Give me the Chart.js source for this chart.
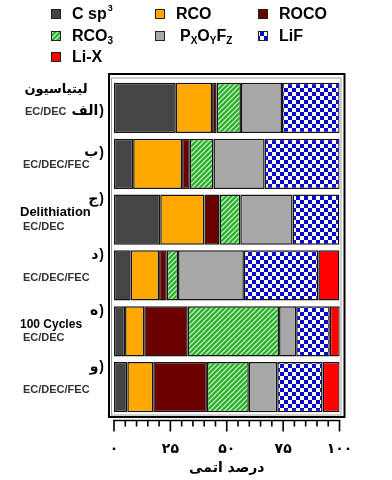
<!DOCTYPE html>
<html>
<head>
<meta charset="utf-8">
<script src="https://cdn.jsdelivr.net/npm/chart.js@4"></script>
<style>
  html, body { margin: 0; padding: 0; background: #ffffff; }
  canvas { display: block; }
</style>
</head>
<body>
<canvas id="c" width="392" height="480"></canvas>
<script>
// ---- data ----
const letters = ["الف)", "ب)", "ج)", "د)", "ه)", "و)"];
const stages = ["لیتیاسیون", "", "Delithiation", "", "100 Cycles", ""];
const electrolytes = ["EC/DEC", "EC/DEC/FEC", "EC/DEC", "EC/DEC/FEC", "EC/DEC", "EC/DEC/FEC"];
const seriesNames = ["C sp^3", "RCO", "ROCO", "RCO_3", "P_XO_YF_Z", "LiF", "Li-X"];
const cSp3   = [27.4, 8.5, 20.5, 7.4, 4.9, 5.9];
const rco    = [16.1, 21.7, 19.6, 12.6, 8.5, 11.5];
const roco   = [2.0, 3.4, 6.7, 3.4, 19.3, 23.8];
const rco3   = [10.8, 10.5, 9.2, 5.0, 40.5, 18.6];
const pxoyfz = [18.2, 22.7, 23.2, 29.2, 7.6, 12.6];
const lif    = [25.6, 33.3, 20.8, 33.0, 14.9, 20.1];
const liX    = [null, null, null, 9.4, 4.5, 7.6];
const tickLabels = ["۰", "۲۵", "۵۰", "۷۵", "۱۰۰"];
const axisTitle = "درصد اتمی";

// ---- patterns ----
function hatchPattern() {
  const t = document.createElement('canvas');
  t.width = 5; t.height = 5;
  const g = t.getContext('2d');
  g.fillStyle = '#2aae2a';
  g.fillRect(0, 0, 5, 5);
  g.strokeStyle = '#bdf0bd';
  g.lineWidth = 1.3;
  g.beginPath();
  g.moveTo(-1, 6); g.lineTo(6, -1);
  g.moveTo(-1, 1); g.lineTo(1, -1);
  g.moveTo(4, 6); g.lineTo(6, 4);
  g.stroke();
  return g.createPattern(t, 'repeat');
}
function checkerPattern() {
  const t = document.createElement('canvas');
  t.width = 8; t.height = 8;
  const g = t.getContext('2d');
  g.fillStyle = '#0a0acc';
  g.fillRect(0, 0, 8, 8);
  g.fillStyle = '#ffffff';
  g.fillRect(0, 0, 4, 4);
  g.fillRect(4, 4, 4, 4);
  return g.createPattern(t, 'repeat');
}

const fills = ['#454545', '#ffa800', '#6b0000', hatchPattern(), '#a8a8a8', checkerPattern(), '#ff0000'];
const seriesData = [cSp3, rco, roco, rco3, pxoyfz, lif, liX];

const datasets = seriesNames.map((n, i) => ({
  label: n,
  data: seriesData[i],
  backgroundColor: fills[i],
  borderColor: '#151515',
  borderWidth: 1.5,
  borderSkipped: false,
  categoryPercentage: 0.9,
  barPercentage: 1.0
}));

function drawRich(ctx, text, x, y, size) {
  // ^ = superscript next char, _ = subscript next char
  let cx = x;
  for (let i = 0; i < text.length; i++) {
    let ch = text[i];
    let mode = '';
    if (ch === '^' || ch === '_') { mode = ch; i++; ch = text[i]; }
    if (mode === '^') {
      ctx.font = 'bold ' + Math.round(size * 0.55) + 'px "Liberation Sans", Arial, sans-serif';
      ctx.fillText(ch, cx + 1, y - size * 0.42);
      cx += ctx.measureText(ch).width + 1;
    } else if (mode === '_') {
      ctx.font = 'bold ' + Math.round(size * 0.62) + 'px "Liberation Sans", Arial, sans-serif';
      ctx.fillText(ch, cx, y + size * 0.28);
      cx += ctx.measureText(ch).width;
    } else {
      ctx.font = 'bold ' + size + 'px "Liberation Sans", Arial, sans-serif';
      ctx.fillText(ch, cx, y);
      cx += ctx.measureText(ch).width;
    }
  }
}

// draw "letter)" with the closing bracket visually at the right
function drawLetter(ctx, text, right, y) {
  ctx.font = 'bold 14px "DejaVu Sans", sans-serif';
  ctx.textAlign = 'right';
  let body = text, tail = '';
  if (text.endsWith(')')) { body = text.slice(0, -1); tail = ')'; }
  let x = right;
  if (tail) {
    ctx.font = 'bold 14px "Liberation Sans", Arial, sans-serif';
    ctx.fillText(tail, x, y);
    x -= ctx.measureText(tail).width + 1;
    ctx.font = 'bold 14px "DejaVu Sans", sans-serif';
  }
  ctx.fillText(body, x, y);
}

const decor = {
  id: 'decor',
  afterDraw(chart) {
    const ctx = chart.ctx;
    const xs = chart.scales.x, ys = chart.scales.y;
    const a = chart.chartArea;
    ctx.save();
    ctx.direction = 'ltr';
    // frames
    ctx.strokeStyle = '#a0a0a0';
    ctx.lineWidth = 1;
    ctx.strokeRect(a.left - 2.5, a.top - 2, (a.right - a.left) + 4, (a.bottom - a.top) + 2);
    ctx.strokeStyle = '#000000';
    ctx.lineWidth = 2;
    ctx.strokeRect(a.left - 5, a.top - 6, (a.right - a.left) + 10, (a.bottom - a.top) + 8);

    // axis line and ticks
    const axY = a.bottom + 5.5;
    ctx.lineWidth = 1.6;
    ctx.beginPath();
    ctx.moveTo(xs.getPixelForValue(0) - 1, axY);
    ctx.lineTo(xs.getPixelForValue(100) + 1, axY);
    for (let v = 0; v <= 100; v += 5) {
      const px = xs.getPixelForValue(v);
      ctx.moveTo(px, axY);
      ctx.lineTo(px, axY + (v % 25 === 0 ? 11 : 6));
    }
    ctx.stroke();

    // tick labels
    ctx.fillStyle = '#000';
    ctx.textAlign = 'center';
    ctx.textBaseline = 'middle';
    ctx.font = 'bold 14px "DejaVu Sans", sans-serif';
    tickLabels.forEach((t, i) => {
      ctx.fillText(t, xs.getPixelForValue(i * 25), 449);
    });
    ctx.font = 'bold 14px "DejaVu Sans", sans-serif';
    ctx.fillText(axisTitle, (xs.getPixelForValue(0) + xs.getPixelForValue(100)) / 2, 468);

    // category labels
    for (let i = 0; i < letters.length; i++) {
      const cy = ys.getPixelForValue(i);
      ctx.fillStyle = '#000';
      const letterY = (i === 0) ? cy + 3 : (i === 1 ? cy - 11 : cy - 20);
      drawLetter(ctx, letters[i], 104, letterY);
      let ey;
      if (i === 0) {
        ctx.textAlign = 'center';
        ctx.font = 'bold 13px "DejaVu Sans", sans-serif';
        ctx.fillText(stages[i], 56, cy - 18);
        ey = cy + 4;
      } else if (stages[i]) {
        ctx.textAlign = 'left';
        ctx.font = 'bold ' + (i === 2 ? 13 : 12) + 'px "Liberation Sans", Arial, sans-serif';
        ctx.fillText(stages[i], 20, cy - 7);
        ey = cy + 7;
      } else {
        ey = (i === 1) ? cy + 1 : cy + 3;
      }
      ctx.textAlign = 'left';
      ctx.fillStyle = '#333';
      ctx.font = 'bold 11px "Liberation Sans", Arial, sans-serif';
      ctx.fillText(electrolytes[i], i === 0 ? 25 : 23, ey);
    }

    // legend
    const colX = [51, 155, 258];
    const rowY = [14, 36, 57];
    chart.data.datasets.forEach((ds, i) => {
      const c = i % 3, r = Math.floor(i / 3);
      const sx = colX[c], sy = rowY[r];
      ctx.fillStyle = ds.backgroundColor;
      ctx.fillRect(sx, sy - 5, 10, 10);
      ctx.strokeStyle = '#222';
      ctx.lineWidth = 1;
      ctx.strokeRect(sx + 0.5, sy - 4.5, 9, 9);
      ctx.fillStyle = '#000';
      ctx.textAlign = 'left';
      ctx.textBaseline = 'middle';
      drawRich(ctx, ds.label, sx + 21 + (i === 4 ? 4 : 0), sy + 1, 16);
    });
    ctx.restore();
  }
};

new Chart(document.getElementById('c'), {
  type: 'bar',
  data: { labels: letters, datasets },
  options: {
    indexAxis: 'y',
    responsive: false,
    animation: false,
    devicePixelRatio: 1,
    layout: { padding: { left: 114, right: 52.5, top: 80, bottom: 65 } },
    plugins: { legend: { display: false }, tooltip: { enabled: false } },
    scales: {
      x: { stacked: true, min: 0, max: 100, display: false },
      y: { stacked: true, display: false, offset: true }
    }
  },
  plugins: [decor]
});
</script>
</body>
</html>
